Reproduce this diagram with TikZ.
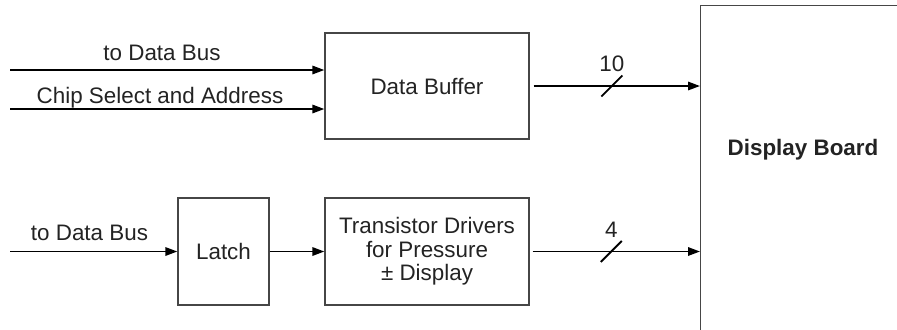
\documentclass[tikz,border=0pt]{standalone}
\usepackage{fontspec}
\setmainfont{Liberation Sans}
\usepackage{tikz}
\usetikzlibrary{arrows.meta, positioning}
\definecolor{boxGray}{RGB}{70, 70, 70}
\definecolor{textDark}{RGB}{35, 35, 35}

\begin{document}
\begin{tikzpicture}[x=0.5pt, y=-0.5pt,
				blk/.style   = {draw=boxGray, rectangle, line width=0.65pt, align=center,
					inner sep=0pt, text=textDark, font=\fontsize{11.2}{11.8}\selectfont},
				lbl/.style   = {inner sep=0pt, anchor=base, text=textDark,
					font=\fontsize{11.2}{11.8}\selectfont},
				sig/.style   = {-{Triangle[length=6pt, width=4.2pt]}, line width=0.95pt},
				tick/.style  = {line width=0.95pt}
				]
				\useasboundingbox (0,0) rectangle (897,329);
				
				\node[blk, minimum width=102pt, minimum height=53pt]
				(buf) at (427, 86) {Data Buffer};
				\node[blk, minimum width=45.5pt, minimum height=53.5pt]
				(latch) at (223.5, 251.5) {Latch};
				\node[blk, minimum width=102pt, minimum height=53.5pt]
				(drv) at (427, 251.5) {Transistor Drivers\\for Pressure\\± Display};
				\begin{scope}
					\clip (0,0) rectangle (897,329);
					\node[blk, anchor=north west, minimum width=120pt, minimum height=180pt]
					(board) at (700, 5) {};
				\end{scope}
				\node[lbl, anchor=center, font=\fontsize{11.2}{11.8}\selectfont\bfseries]
				(board_txt) at (803, 150) {Display Board};
				
				\coordinate (bus_in) at (10, 70);
				\coordinate (cs_in) at (10, 109);
				\coordinate (latch_in) at (10, 251.5);
				\node[lbl] (bus_txt) at (162, 60) {to Data Bus};
				\node[lbl] (cs_txt) at (160, 103) {Chip Select and Address};
				\node[lbl] (latch_txt) at (89.5, 240) {to Data Bus};
				
				\draw[sig] (bus_in) -- (bus_in -| buf.west);
				\draw[sig] (cs_in) -- (cs_in -| buf.west);
				\draw[sig] (latch_in) -- (latch.west);
				\draw[sig] (latch) -- (drv);
				
				\draw[sig] ([xshift=2pt]buf.east) -- node[pos=0.47, inner sep=0pt] (bus10) {} (buf.east -| board.west);
				\draw[sig] ([xshift=1.5pt]drv.east) -- node[pos=0.47, inner sep=0pt] (bus4) {} (drv.east -| board.west);
				\draw[tick] ([shift={(-5.25pt,-5.25pt)}]bus10.center) -- ([shift={(5.25pt,5.25pt)}]bus10.center);
				\draw[tick] ([shift={(-5.25pt,-5.25pt)}]bus4.center) -- ([shift={(5.25pt,5.25pt)}]bus4.center);
				\node[lbl, anchor=center] (bus10_txt) at ([yshift=11.25pt]bus10.center) {10};
				\node[lbl, anchor=center] (bus4_txt) at ([yshift=10.75pt]bus4.center) {4};
			\end{tikzpicture}
\end{document}
